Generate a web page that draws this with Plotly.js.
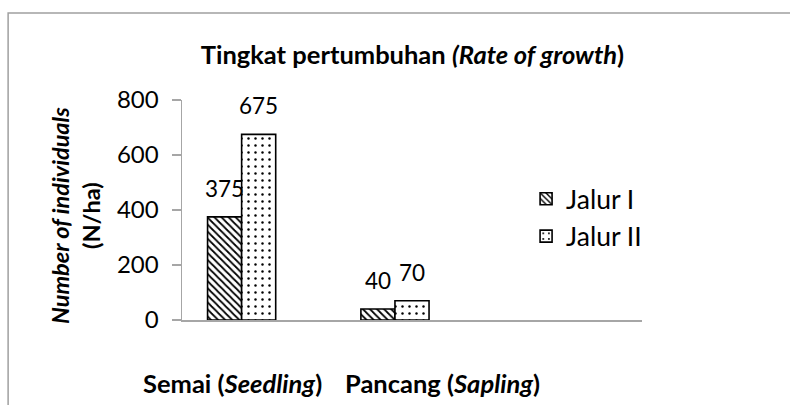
<!DOCTYPE html>
<html>
<head>
<meta charset="utf-8">
<script src="https://cdn.plot.ly/plotly-3.0.1.min.js"></script>
<style>html,body{margin:0;padding:0;background:#fff;}#chart{width:790px;height:405px;}</style>
</head>
<body>
<div id="chart"></div>
<script>
// ---- data ----
const categories = ['Semai', 'Pancang'];
const categoryLabels = ['<b>Semai (<i>Seedling</i>)</b>', '<b>Pancang (<i>Sapling</i>)</b>'];
const seriesNames = ['Jalur I', 'Jalur II'];
const jalurI = [375, 40];
const jalurII = [675, 70];
const yTickVals = [0, 200, 400, 600, 800];

const FONT = 'Lato, "Open Sans", sans-serif';
const barW = 2/9;
const offsets = [-1/3, -1/9];
const seriesValues = [jalurI, jalurII];
const patterns = [
  {shape: '\\', size: 5, solidity: 0.35, fgcolor: '#000', bgcolor: '#fff', fillmode: 'replace'},
  {shape: '.', size: 7, solidity: 0.1, fgcolor: '#000', bgcolor: '#fff', fillmode: 'replace'}
];

const traces = seriesNames.map((name, s) => ({
  type: 'bar',
  name: name,
  x: categories,
  y: seriesValues[s],
  width: barW,
  offset: offsets[s],
  marker: {color: '#fff', pattern: patterns[s], line: {color: '#000', width: 1.6}},
  hoverinfo: 'skip'
}));

const annotations = [];
seriesValues.forEach((vals, s) => {
  vals.forEach((v, i) => {
    annotations.push({
      x: i + offsets[s] + barW / 2, y: v, xref: 'x', yref: 'y',
      text: String(v), showarrow: false, yanchor: 'bottom', xanchor: 'center', yshift: 13,
      font: {family: FONT, size: 22.5, color: '#000'}
    });
  });
});
const labelX = [0.1087, 0.5663];
categoryLabels.forEach((t, i) => {
  annotations.push({
    x: labelX[i], y: -0.286, xref: 'paper', yref: 'paper', text: t, showarrow: false,
    xanchor: 'center', yanchor: 'middle', font: {family: FONT, size: 25.5, color: '#000'}
  });
});
annotations.push({
  x: -0.2304, y: 0.473, xref: 'paper', yref: 'paper', textangle: -90,
  text: '<b><i>Number of individuals</i></b><br><b>(N/ha)</b>', showarrow: false,
  xanchor: 'center', yanchor: 'middle', font: {family: FONT, size: 23.5, color: '#000'}
});

const layout = {
  width: 790, height: 405,
  margin: {l: 182, r: 148, t: 100, b: 85},
  paper_bgcolor: '#fff', plot_bgcolor: '#fff',
  font: {family: FONT, color: '#000'},
  title: {text: '<b>Tingkat pertumbuhan <i>(Rate of growth</i>)</b>', x: 0.522, y: 0.864,
          xanchor: 'center', yanchor: 'middle', font: {family: FONT, size: 25.5, color: '#000'}},
  xaxis: {type: 'category', range: [-0.5, 2.5], showticklabels: false, showgrid: false, zeroline: false,
          showline: true, linecolor: '#a6a6a6', linewidth: 1.5, ticks: '', fixedrange: true},
  yaxis: {range: [0, 800], tickvals: yTickVals, ticktext: yTickVals.map(String), showgrid: false, zeroline: false,
          showline: true, linecolor: '#a6a6a6', linewidth: 1.5, ticks: 'outside', ticklen: 9, tickcolor: '#a6a6a6',
          tickwidth: 1.5, tickfont: {family: FONT, size: 24, color: '#000'}, ticklabelstandoff: 8},
  showlegend: true,
  legend: {x: 0.748, y: 0.466, xanchor: 'left', yanchor: 'middle', traceorder: 'normal',
           font: {family: FONT, size: 26.5, color: '#000'}, bgcolor: 'rgba(0,0,0,0)', itemwidth: 30},
  annotations: annotations,
  shapes: [{type: 'rect', xref: 'paper', yref: 'paper', x0: -0.378, x1: 1.36, y0: -0.48, y1: 1.395,
            line: {color: '#a0a0a0', width: 1.5}, fillcolor: 'rgba(0,0,0,0)', layer: 'below'}],
  bargap: 0
};

Plotly.newPlot('chart', traces, layout, {displayModeBar: false, staticPlot: true});
</script>
</body>
</html>
